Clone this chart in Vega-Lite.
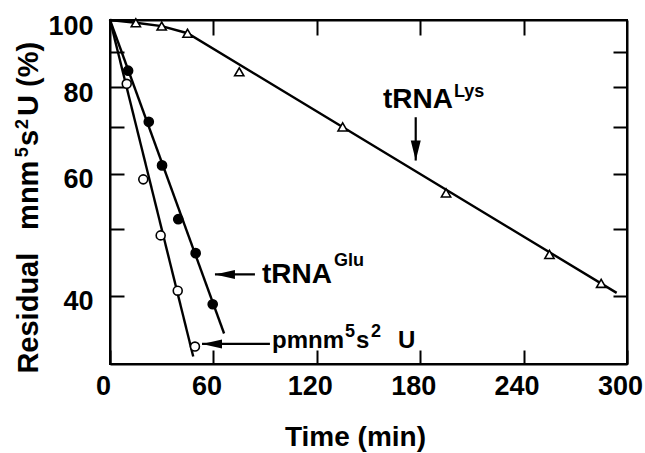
{
  "$schema": "https://vega.github.io/schema/vega-lite/v6.json",
  "autosize": {"type": "none"},
  "width": 517,
  "height": 344,
  "padding": {"left": 110, "top": 20, "right": 18, "bottom": 89},
  "background": "white",
  "config": {
    "view": {"stroke": "black", "strokeWidth": 2},
    "font": "Liberation Sans, Arial, Helvetica, sans-serif",
    "axis": {
      "grid": false,
      "domainColor": "black",
      "domainWidth": 2,
      "tickColor": "black",
      "tickWidth": 2,
      "labelColor": "black",
      "labelFont": "Liberation Sans, Arial, sans-serif",
      "labelFontWeight": "bold",
      "labelFontSize": 27,
      "labelFlush": false,
      "labelOverlap": false,
      "labelBound": false,
      "titleColor": "black",
      "titleFont": "Liberation Sans, Arial, sans-serif",
      "titleFontWeight": "bold",
      "titleFontSize": 28
    }
  },
  "datasets": {
    "obs": [
      {"series": "Lys", "t": 15, "v": 99.1},
      {"series": "Lys", "t": 30, "v": 98.0},
      {"series": "Lys", "t": 45, "v": 95.7},
      {"series": "Lys", "t": 75, "v": 84.2},
      {"series": "Lys", "t": 135, "v": 70.1},
      {"series": "Lys", "t": 195, "v": 56.3},
      {"series": "Lys", "t": 255, "v": 45.9},
      {"series": "Lys", "t": 285, "v": 41.7},
      {"series": "Glu", "t": 10.5, "v": 84.5},
      {"series": "Glu", "t": 22.5, "v": 71.3},
      {"series": "Glu", "t": 30.2, "v": 61.7},
      {"series": "Glu", "t": 39.6, "v": 51.6},
      {"series": "Glu", "t": 49.7, "v": 46.1},
      {"series": "Glu", "t": 59.6, "v": 38.9},
      {"series": "pmnm", "t": 9.7, "v": 80.9},
      {"series": "pmnm", "t": 19.3, "v": 58.9},
      {"series": "pmnm", "t": 29.4, "v": 48.9},
      {"series": "pmnm", "t": 39.3, "v": 40.7},
      {"series": "pmnm", "t": 49.3, "v": 33.8}
    ],
    "fits": [
      {"series": "Lys", "t": 0, "v": 100},
      {"series": "Lys", "t": 15, "v": 99.1},
      {"series": "Lys", "t": 30, "v": 98.0},
      {"series": "Lys", "t": 45, "v": 95.7},
      {"series": "Lys", "t": 294, "v": 40.4},
      {"series": "Glu", "t": 0, "v": 100},
      {"series": "Glu", "t": 66.2, "v": 35.3},
      {"series": "pmnm", "t": 0, "v": 100},
      {"series": "pmnm", "t": 48.3, "v": 32.7}
    ],
    "arrows": [
      {"name": "Lys", "t": 177.4, "v": 72.4, "t2": 177.4, "v2": 62.7, "dir": "down"},
      {"name": "Glu", "t": 84.1, "v": 42.96, "t2": 60.9, "v2": 42.96, "dir": "left"},
      {"name": "pmnm", "t": 92.8, "v": 34.1, "t2": 53.4, "v2": 34.1, "dir": "left"}
    ],
    "labels": [
      {"text": "tRNA", "kind": "main", "t": 158.4, "v": 74.6},
      {"text": "Lys", "kind": "sup", "t": 199.6, "v": 77.4},
      {"text": "tRNA", "kind": "main", "t": 88.2, "v": 41.8},
      {"text": "Glu", "kind": "sup", "t": 130.0, "v": 44.1},
      {"text": "pmnm", "kind": "mid", "t": 94.0, "v": 33.6},
      {"text": "5", "kind": "sup", "t": 136.4, "v": 34.9},
      {"text": "s", "kind": "mid", "t": 142.7, "v": 33.6},
      {"text": "2", "kind": "sup", "t": 151.5, "v": 34.9},
      {"text": "U", "kind": "mid", "t": 167.1, "v": 33.6},
      {"text": "Residual", "kind": "ymain", "t": -41.8, "v": 30.9},
      {"text": "mnm", "kind": "ymain", "t": -41.8, "v": 49.8},
      {"text": "5", "kind": "ysup", "t": -47.6, "v": 63.4},
      {"text": "s", "kind": "ymain", "t": -41.8, "v": 65.8},
      {"text": "2", "kind": "ysup", "t": -47.6, "v": 69.6},
      {"text": "U (%)", "kind": "ymain", "t": -41.8, "v": 72.7}
    ]
  },
  "resolve": {
    "axis": {"x": "independent", "y": "independent"},
    "scale": {"shape": "independent", "fill": "independent", "size": "independent"}
  },
  "layer": [
    {
      "data": {"name": "fits"},
      "mark": {"type": "line", "color": "black", "strokeWidth": 2.4},
      "encoding": {
        "x": {
          "field": "t", "type": "quantitative",
          "scale": {"domain": [0, 300], "nice": false, "zero": false},
          "axis": {
            "orient": "bottom",
            "values": [0, 60, 120, 180, 240, 300],
            "tickSize": -14,
            "labelPadding": 23,
            "labelOffset": -7,
            "title": "Time (min)",
            "titleX": 245,
            "titleY": 81,
            "titleBaseline": "alphabetic",
            "titleAlign": "center"
          }
        },
        "y": {
          "field": "v", "type": "quantitative",
          "scale": {"type": "log", "domain": [31.9, 100], "nice": false, "zero": false},
          "axis": {
            "orient": "left",
            "values": [40, 50, 60, 70, 80, 90, 100],
            "format": "d",
            "labelExpr": "datum.value == 100 || datum.value == 80 || datum.value == 60 || datum.value == 40 ? datum.label : ''",
            "tickSize": -14,
            "labelPadding": 31,
            "labelOffset": 6,
            "title": null
          }
        },
        "detail": {"field": "series"}
      }
    },
    {
      "data": {"name": "obs"},
      "mark": {"type": "point", "stroke": "black", "strokeWidth": 1.6, "opacity": 1},
      "encoding": {
        "x": {
          "field": "t", "type": "quantitative",
          "axis": {"orient": "top", "values": [60, 120, 180, 240], "labels": false, "tickSize": -15, "title": null}
        },
        "y": {
          "field": "v", "type": "quantitative",
          "axis": {"orient": "right", "values": [40, 50, 60, 70, 80, 90], "labels": false, "tickSize": -14, "title": null}
        },
        "shape": {
          "field": "series", "type": "nominal",
          "scale": {"domain": ["Lys", "Glu", "pmnm"], "range": ["triangle-up", "circle", "circle"]},
          "legend": null
        },
        "fill": {
          "field": "series", "type": "nominal",
          "scale": {"domain": ["Lys", "Glu", "pmnm"], "range": ["white", "black", "white"]},
          "legend": null
        },
        "size": {
          "field": "series", "type": "nominal",
          "scale": {"domain": ["Lys", "Glu", "pmnm"], "range": [85, 80, 75]},
          "legend": null
        }
      }
    },
    {
      "data": {"name": "arrows"},
      "mark": {"type": "rule", "color": "black", "strokeWidth": 2.2},
      "encoding": {
        "x": {"field": "t", "type": "quantitative", "axis": null},
        "x2": {"field": "t2"},
        "y": {"field": "v", "type": "quantitative", "axis": null},
        "y2": {"field": "v2"}
      }
    },
    {
      "data": {"name": "arrows"},
      "mark": {"type": "point", "filled": true, "color": "black", "opacity": 1, "size": 400},
      "encoding": {
        "x": {"field": "t2", "type": "quantitative", "axis": null},
        "y": {"field": "v2", "type": "quantitative", "axis": null},
        "shape": {
          "field": "dir", "type": "nominal",
          "scale": {"domain": ["left", "down"], "range": ["M0,0L2,-0.45L2,0.45Z", "M0,0L-0.5,-2L0.5,-2Z"]},
          "legend": null
        }
      }
    },
    {
      "data": {"name": "labels"},
      "transform": [{"filter": "datum.kind == 'main'"}],
      "mark": {"type": "text", "align": "left", "baseline": "alphabetic", "font": "Liberation Sans, Arial, sans-serif", "fontWeight": "bold", "fontSize": 28, "color": "black"},
      "encoding": {
        "x": {"field": "t", "type": "quantitative", "axis": null},
        "y": {"field": "v", "type": "quantitative", "axis": null},
        "text": {"field": "text"}
      }
    },
    {
      "data": {"name": "labels"},
      "transform": [{"filter": "datum.kind == 'mid'"}],
      "mark": {"type": "text", "align": "left", "baseline": "alphabetic", "font": "Liberation Sans, Arial, sans-serif", "fontWeight": "bold", "fontSize": 24, "color": "black"},
      "encoding": {
        "x": {"field": "t", "type": "quantitative", "axis": null},
        "y": {"field": "v", "type": "quantitative", "axis": null},
        "text": {"field": "text"}
      }
    },
    {
      "data": {"name": "labels"},
      "transform": [{"filter": "datum.kind == 'sup'"}],
      "mark": {"type": "text", "align": "left", "baseline": "alphabetic", "font": "Liberation Sans, Arial, sans-serif", "fontWeight": "bold", "fontSize": 18, "color": "black"},
      "encoding": {
        "x": {"field": "t", "type": "quantitative", "axis": null},
        "y": {"field": "v", "type": "quantitative", "axis": null},
        "text": {"field": "text"}
      }
    },
    {
      "data": {"name": "labels"},
      "transform": [{"filter": "datum.kind == 'ymain'"}],
      "mark": {"type": "text", "align": "left", "baseline": "alphabetic", "angle": 270, "font": "Liberation Sans, Arial, sans-serif", "fontWeight": "bold", "fontSize": 29, "color": "black"},
      "encoding": {
        "x": {"field": "t", "type": "quantitative", "axis": null},
        "y": {"field": "v", "type": "quantitative", "axis": null},
        "text": {"field": "text"}
      }
    },
    {
      "data": {"name": "labels"},
      "transform": [{"filter": "datum.kind == 'ysup'"}],
      "mark": {"type": "text", "align": "left", "baseline": "alphabetic", "angle": 270, "font": "Liberation Sans, Arial, sans-serif", "fontWeight": "bold", "fontSize": 18, "color": "black"},
      "encoding": {
        "x": {"field": "t", "type": "quantitative", "axis": null},
        "y": {"field": "v", "type": "quantitative", "axis": null},
        "text": {"field": "text"}
      }
    }
  ]
}
